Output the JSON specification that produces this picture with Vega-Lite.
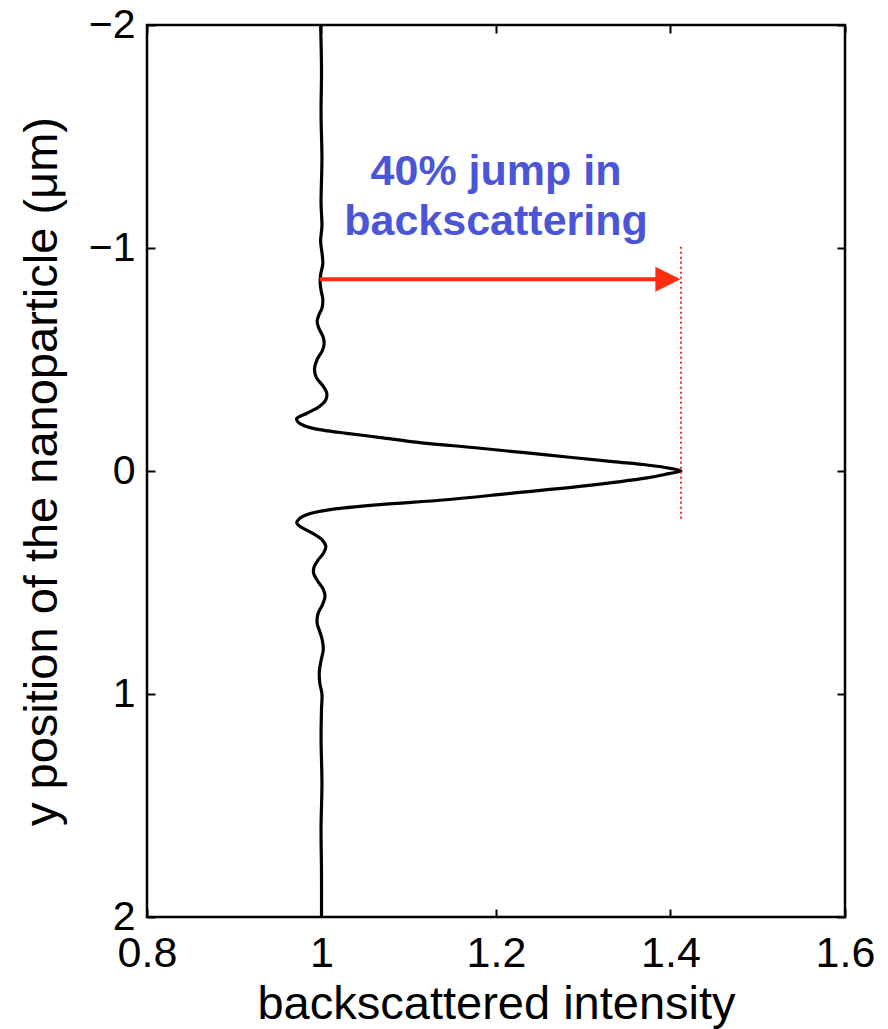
{
  "$schema": "https://vega.github.io/schema/vega-lite/v6.json",
  "width": 698,
  "height": 892,
  "autosize": {"type": "none"},
  "padding": {"left": 147, "top": 25, "right": 43, "bottom": 112},
  "background": "white",
  "config": {
    "font": "Liberation Sans",
    "view": {"stroke": "black", "strokeWidth": 2.5},
    "axis": {
      "grid": false,
      "domain": false,
      "tickColor": "black",
      "tickWidth": 2,
      "tickSize": -8,
      "labelFlush": false,
      "labelFont": "Liberation Sans",
      "labelFontSize": 43,
      "labelColor": "black",
      "titleFont": "Liberation Sans",
      "titleFontSize": 47,
      "titleFontWeight": "normal",
      "titleColor": "black"
    }
  },
  "datasets": {
    "curve": [
      {"y": -2.0, "v": 0.999}, {"y": -1.8, "v": 1.0}, {"y": -1.6, "v": 0.9995}, {"y": -1.4, "v": 1.0005},
      {"y": -1.2, "v": 0.9995}, {"y": -1.1, "v": 1.0005}, {"y": -1.03, "v": 0.999}, {"y": -0.98, "v": 1.0005},
      {"y": -0.93, "v": 1.0015}, {"y": -0.88, "v": 0.999}, {"y": -0.84, "v": 0.9985}, {"y": -0.8, "v": 1.0},
      {"y": -0.77, "v": 1.0015}, {"y": -0.73, "v": 1.0005}, {"y": -0.7, "v": 0.997}, {"y": -0.67, "v": 0.995},
      {"y": -0.64, "v": 0.997}, {"y": -0.6, "v": 1.002}, {"y": -0.57, "v": 1.003}, {"y": -0.54, "v": 1.001},
      {"y": -0.5, "v": 0.995}, {"y": -0.46, "v": 0.992}, {"y": -0.42, "v": 0.994}, {"y": -0.38, "v": 1.002},
      {"y": -0.35, "v": 1.006}, {"y": -0.32, "v": 1.005}, {"y": -0.29, "v": 0.998}, {"y": -0.26, "v": 0.984},
      {"y": -0.235, "v": 0.9715}, {"y": -0.22, "v": 0.973}, {"y": -0.205, "v": 0.979}, {"y": -0.191, "v": 0.9906},
      {"y": -0.18, "v": 1.007}, {"y": -0.169, "v": 1.029}, {"y": -0.15, "v": 1.068}, {"y": -0.131, "v": 1.105},
      {"y": -0.102, "v": 1.182}, {"y": -0.072, "v": 1.258}, {"y": -0.042, "v": 1.334}, {"y": -0.027, "v": 1.373},
      {"y": -0.012, "v": 1.4}, {"y": 0.0, "v": 1.412},
      {"y": 0.012, "v": 1.398}, {"y": 0.031, "v": 1.373}, {"y": 0.069, "v": 1.296}, {"y": 0.099, "v": 1.219},
      {"y": 0.129, "v": 1.143}, {"y": 0.151, "v": 1.067}, {"y": 0.173, "v": 1.01}, {"y": 0.185, "v": 0.993},
      {"y": 0.196, "v": 0.983}, {"y": 0.21, "v": 0.976}, {"y": 0.233, "v": 0.9716}, {"y": 0.25, "v": 0.976},
      {"y": 0.28, "v": 0.99}, {"y": 0.31, "v": 1.001}, {"y": 0.339, "v": 1.005}, {"y": 0.37, "v": 1.002},
      {"y": 0.4, "v": 0.996}, {"y": 0.43, "v": 0.9915}, {"y": 0.459, "v": 0.991}, {"y": 0.49, "v": 0.995},
      {"y": 0.53, "v": 1.002}, {"y": 0.564, "v": 1.004}, {"y": 0.6, "v": 1.001}, {"y": 0.64, "v": 0.996},
      {"y": 0.683, "v": 0.995}, {"y": 0.72, "v": 0.998}, {"y": 0.76, "v": 1.001}, {"y": 0.803, "v": 1.002},
      {"y": 0.85, "v": 0.9995}, {"y": 0.9, "v": 0.9975}, {"y": 0.95, "v": 0.998}, {"y": 1.0, "v": 1.0005},
      {"y": 1.07, "v": 1.0}, {"y": 1.2, "v": 0.9995}, {"y": 1.4, "v": 1.0005}, {"y": 1.6, "v": 0.9995},
      {"y": 1.8, "v": 1.0}, {"y": 2.0, "v": 1.0}
    ],
    "dotted": [{"x": 1.412, "y1": -1.006, "y2": 0.22}],
    "shaft": [{"x1": 0.998, "x2": 1.385, "y": -0.86}],
    "head": [{"x": 1.397, "y": -0.86}],
    "label": [
      {"x": 1.2, "y": -1.283, "text": "40% jump in"},
      {"x": 1.2, "y": -1.058, "text": "backscattering"}
    ]
  },
  "layer": [
    {
      "data": {"name": "curve"},
      "mark": {"type": "line", "color": "black", "strokeWidth": 3.2, "interpolate": "catmull-rom"},
      "encoding": {
        "x": {"field": "v", "type": "quantitative",
              "scale": {"domain": [0.8, 1.6], "nice": false, "zero": false},
              "axis": {"orient": "bottom", "values": [0.8, 1, 1.2, 1.4, 1.6], "format": "~g",
                       "labelPadding": 23, "labelBaseline": "top",
                       "title": "backscattered intensity", "titleY": 101, "titleBaseline": "alphabetic"}},
        "y": {"field": "y", "type": "quantitative",
              "scale": {"domain": [-2, 2], "nice": false, "zero": false, "reverse": true},
              "axis": {"orient": "left", "values": [-2, -1, 0, 1, 2], "format": "~g",
                       "labelPadding": 20, "labelFontSize": 41,
                       "title": "y position of the nanoparticle (μm)", "titleX": -91, "titleBaseline": "alphabetic"}},
        "order": {"field": "y", "type": "quantitative"}
      }
    },
    {
      "data": {"name": "dotted"},
      "mark": {"type": "rule", "color": "#ff2d0f", "strokeWidth": 2, "strokeDash": [2, 3]},
      "encoding": {
        "x": {"field": "x", "type": "quantitative",
              "axis": {"orient": "top", "values": [0.8, 1, 1.2, 1.4, 1.6], "labels": false, "title": null}},
        "y": {"field": "y1", "type": "quantitative",
              "axis": {"orient": "right", "values": [-2, -1, 0, 1, 2], "labels": false, "title": null}},
        "y2": {"field": "y2"}
      }
    },
    {
      "data": {"name": "shaft"},
      "mark": {"type": "rule", "color": "#ff2d0f", "strokeWidth": 4},
      "encoding": {
        "x": {"field": "x1", "type": "quantitative", "axis": null},
        "x2": {"field": "x2"},
        "y": {"field": "y", "type": "quantitative", "axis": null}
      }
    },
    {
      "data": {"name": "head"},
      "mark": {"type": "point", "shape": "M-1,-1L1,0L-1,1Z", "size": 625, "filled": true, "color": "#ff2d0f", "opacity": 1},
      "encoding": {
        "x": {"field": "x", "type": "quantitative", "axis": null},
        "y": {"field": "y", "type": "quantitative", "axis": null}
      }
    },
    {
      "data": {"name": "label"},
      "mark": {"type": "text", "font": "Liberation Sans", "fontWeight": "bold", "fontSize": 43,
               "color": "#4b55d8", "align": "center", "baseline": "alphabetic"},
      "encoding": {
        "x": {"field": "x", "type": "quantitative", "axis": null},
        "y": {"field": "y", "type": "quantitative", "axis": null},
        "text": {"field": "text", "type": "nominal"}
      }
    }
  ]
}
